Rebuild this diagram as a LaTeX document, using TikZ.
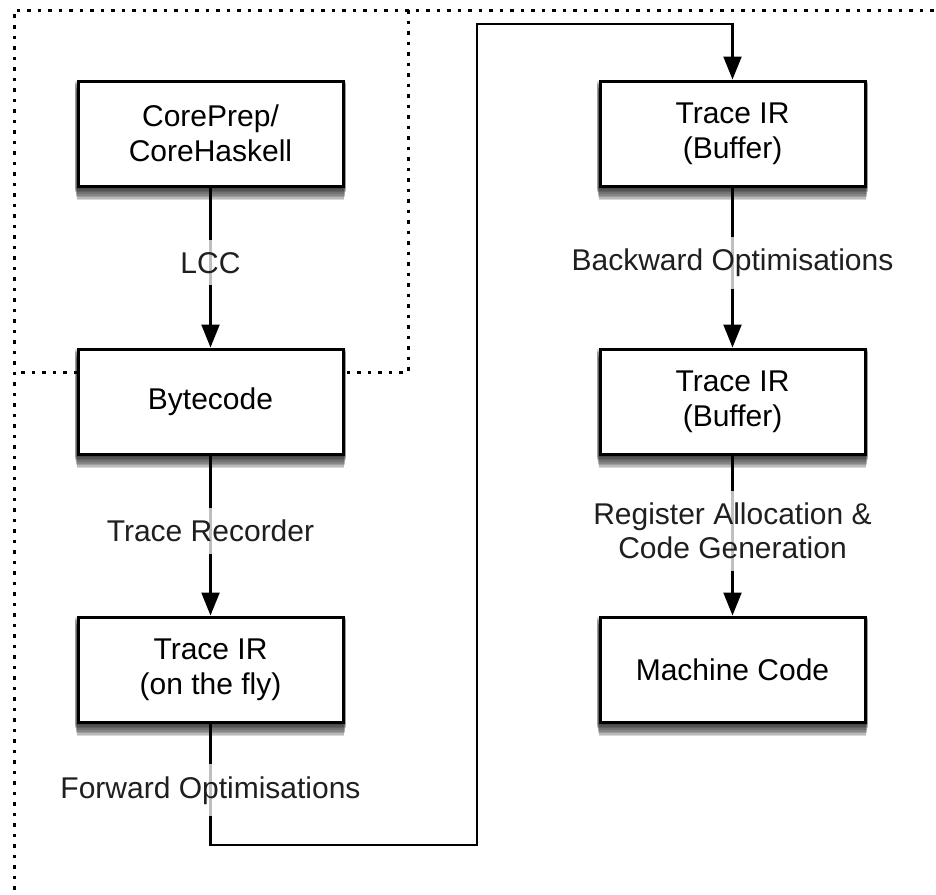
\documentclass[tikz,border=0pt]{standalone}
\usepackage{fontspec}
\setmainfont{Liberation Sans}
\usetikzlibrary{arrows.meta,backgrounds}

\begin{document}
\begin{tikzpicture}[x=1pt,y=-1pt,
  stage/.style={draw=black, line width=3pt, fill=white,
    minimum width=265pt, minimum height=105pt, inner sep=0pt,
    align=center, font=\fontsize{30}{35}\selectfont},
  shadowlayer/.style={fill=black, fill opacity=0.15, draw=none},
  flow/.style={line width=2.2pt, -{Triangle[width=18pt,length=23pt]}},
  passlabel/.style={fill=white, fill opacity=0.75, text opacity=1,
    text=black!88, font=\fontsize{30}{34}\selectfont, align=center,
    inner xsep=2pt, inner ysep=12pt},
  region/.style={line width=3pt, dash pattern=on 3.5pt off 7pt}
]
\useasboundingbox (0,0) rectangle (936,894);
\clip (0,0) rectangle (936,894);

% compilation-phase regions
\draw[region] (14,900) -- (14,10) -- (940,10);
\draw[region] (408,10) -- (408,372) -- (14,372);

% pipeline stages
\node[stage] (core) at (210.5,133.5) {CorePrep/\\CoreHaskell};
\node[stage] (byte) at (210.5,401.5) {Bytecode};
\node[stage] (fly)  at (210.5,669.5) {Trace IR\\(on the fly)};
\node[stage] (buf1) at (732.5,133.5) {Trace IR\\(Buffer)};
\node[stage] (buf2) at (732.5,401.5) {Trace IR\\(Buffer)};
\node[stage] (mc)   at (732.5,669.5) {Machine Code};

% soft drop shadows under the stages
\begin{pgfonlayer}{background}
  \foreach \s in {core,byte,fly,buf1,buf2,mc}{
    \foreach \k in {1,...,8}{
      \fill[shadowlayer]
        ([xshift={-2pt+0.3pt*\k}, yshift={-1.6pt*\k}]\s.south west)
        rectangle ([xshift={2pt-0.3pt*\k}, yshift={-1.6pt*\k}]\s.north east);
    }
  }
\end{pgfonlayer}

% bend points of the long connector
\coordinate (bendA) at (210.5,845);
\coordinate (bendB) at (477,845);
\coordinate (bendC) at (477,24);
\coordinate (bendD) at (732.5,24);

% transformations between stages
\draw[flow] (core) -- node[passlabel, pos=0.47] (lcc) {LCC} (byte);
\draw[flow] (byte) -- node[passlabel, pos=0.47] (rec) {Trace Recorder} (fly);
\draw[flow] (fly.south) -- node[passlabel, pos=0.55] (fwd) {Forward Optimisations} (bendA)
  -- (bendB) -- (bendC) -- (bendD) -- (buf1.north);
\draw[flow] (buf1) -- node[passlabel, pos=0.47] (bwd) {Backward Optimisations} (buf2);
\draw[flow] (buf2) -- node[passlabel, pos=0.47] (reg) {Register Allocation \&\\Code Generation} (mc);
\end{tikzpicture}
\end{document}
